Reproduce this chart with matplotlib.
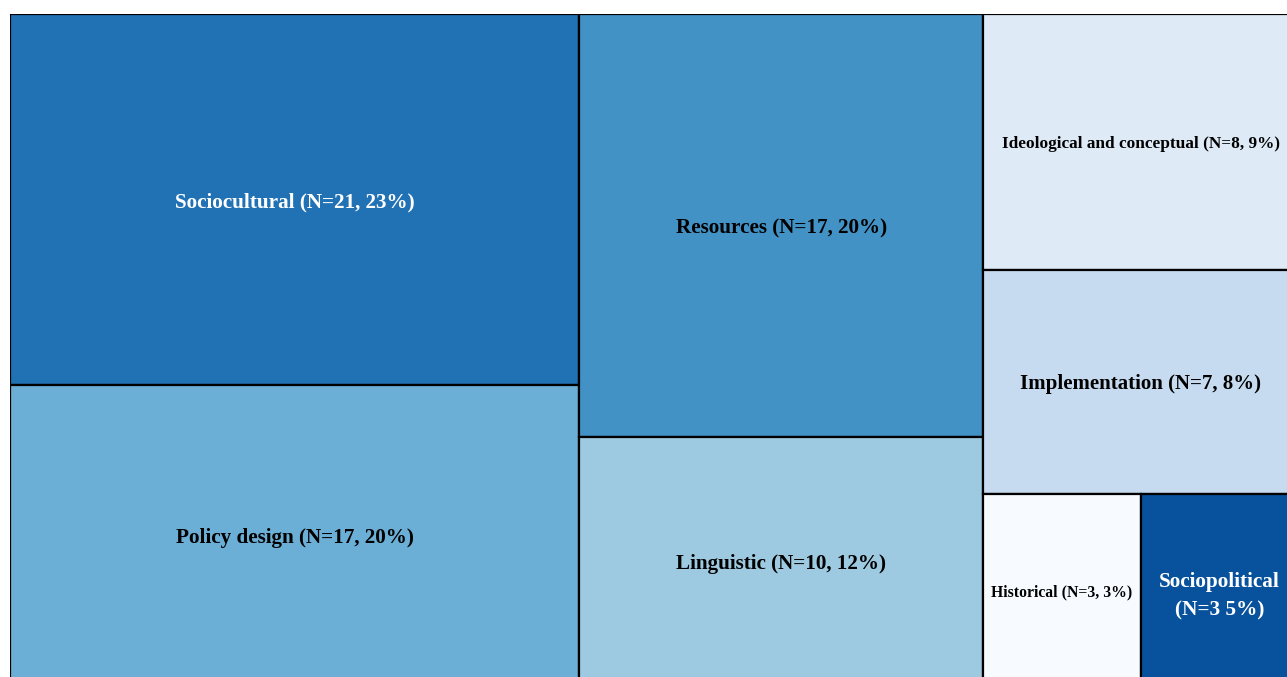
import matplotlib.pyplot as plt
from matplotlib.patches import Rectangle

# Treemap data, grouped into the three columns of the layout
labels = [
    ["Sociocultural (N=21, 23%)", "Policy design (N=17, 20%)"],
    ["Resources (N=17, 20%)", "Linguistic (N=10, 12%)"],
    ["Ideological and conceptual (N=8, 9%)", "Implementation (N=7, 8%)",
     ["Historical (N=3, 3%)", "Sociopolitical\n(N=3 5%)"]],
]
values = [
    [21, 17],
    [17, 10],
    [8, 7, [3, 3]],
]
colors = [
    ["#2171b5", "#6baed6"],
    ["#4292c6", "#9ecae1"],
    ["#deebf7", "#c6dbef", ["#f7fbff", "#08519c"]],
]
text_colors = [
    ["white", "black"],
    ["black", "black"],
    ["black", "black", ["black", "white"]],
]
font_sizes = [
    [15.2, 15.2],
    [15.2, 15.2],
    [12.4, 15, [11.3, 15.3]],
]


def total(v):
    return sum(total(x) if isinstance(x, list) else x for x in v)


def draw_box(ax, x, y, w, h, color, label, tcolor, fs):
    ax.add_patch(Rectangle((x, y), w, h, facecolor=color, edgecolor="black", linewidth=1.6))
    ax.text(x + w / 2, y + h / 2, label, ha="center", va="center_baseline", color=tcolor,
            fontsize=fs, fontweight="bold", family="Liberation Serif", linespacing=1.5)


fig = plt.figure(figsize=(12.87, 6.77), dpi=100)
ax = fig.add_axes([10 / 1287, -9 / 677, 1288 / 1287, 672 / 677])
ax.set_xlim(0, 1)
ax.set_ylim(0, 1)
ax.axis("off")

grand = total(values)
x = 0.0
for col_vals, col_labels, col_colors, col_tc, col_fs in zip(values, labels, colors, text_colors, font_sizes):
    col_total = total(col_vals)
    w = col_total / grand
    y = 1.0
    for v, lab, c, tc, fs in zip(col_vals, col_labels, col_colors, col_tc, col_fs):
        if isinstance(v, list):
            # a row of boxes split horizontally
            h = total(v) / col_total
            xx = x
            for vv, ll, cc, tt, ff in zip(v, lab, c, tc, fs):
                ww = w * vv / total(v)
                draw_box(ax, xx, y - h, ww, h, cc, ll, tt, ff)
                xx += ww
        else:
            h = v / col_total
            draw_box(ax, x, y - h, w, h, c, lab, tc, fs)
        y -= h
    x += w

fig.savefig("out.png", dpi=100)
